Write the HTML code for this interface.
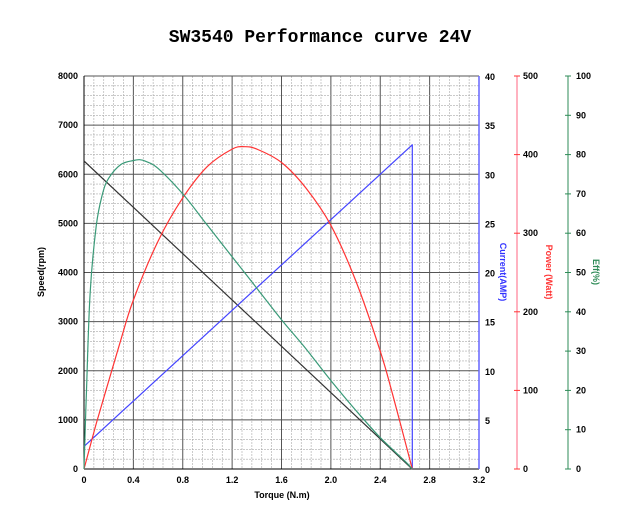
<!DOCTYPE html>
<html><head><meta charset="utf-8"><style>
body{margin:0;background:#fff;width:631px;height:515px;overflow:hidden;font-family:"Liberation Sans",sans-serif}
</style></head><body>
<svg width="631" height="515" font-family="Liberation Sans, sans-serif">
<text x="320" y="42" text-anchor="middle" font-size="18" font-weight="bold" font-family="Liberation Mono, monospace">SW3540 Performance curve  24V</text>
<g id="grid"></g><g id="axes"></g><g id="series"></g>
<text transform="translate(44,272) rotate(-90)" text-anchor="middle" font-size="9" font-weight="bold">Speed(rpm)</text>
<text x="282" y="498" text-anchor="middle" font-size="9" font-weight="bold">Torque (N.m)</text>
<text transform="translate(500,272) rotate(90)" text-anchor="middle" font-size="9" font-weight="bold" fill="#3333ff">Current(AMP)</text>
<text transform="translate(546,272) rotate(90)" text-anchor="middle" font-size="9" font-weight="bold" fill="#ff3333">Power (Watt)</text>
<text transform="translate(593,272) rotate(90)" text-anchor="middle" font-size="9" font-weight="bold" fill="#2e8b57">Eff(%)</text>
</svg>
<script>
const xTicks=[0,0.4,0.8,1.2,1.6,2.0,2.4,2.8,3.2];
const xTickLabels=["0","0.4","0.8","1.2","1.6","2.0","2.4","2.8","3.2"];
const speedTicks=[0,1000,2000,3000,4000,5000,6000,7000,8000];
const currentTicks=[0,5,10,15,20,25,30,35,40];
const powerTicks=[0,100,200,300,400,500];
const effTicks=[0,10,20,30,40,50,60,70,80,90,100];
const speedT=[0,2.66];
const speedV=[6270,0];
const currentT=[0,2.66,2.66];
const currentV=[2.3,33,0];
const powerT=[0,0.1,0.2,0.3,0.4,0.6,0.8,1.0,1.2,1.3,1.4,1.6,1.8,2.0,2.2,2.4,2.5,2.66];
const powerV=[0,58,112,165,215,290,345,385,407,410,407,390,357,310,240,150,95,0];
const effT=[0,0.02,0.05,0.1,0.15,0.2,0.3,0.4,0.45,0.5,0.6,0.8,1.0,1.2,1.4,1.6,1.8,2.0,2.2,2.4,2.6,2.66];
const effV=[0,20,45,62,70,74,77.5,78.5,78.7,78.3,76.5,70,62,54,46,38,30.5,22.5,15,8,2,0];

const L=84,R=479,T=76,B=469,NS="http://www.w3.org/2000/svg";
const X=v=>L+v/3.2*(R-L);
const Ys=v=>B-v/8000*(B-T), Yc=v=>B-v/40*(B-T), Yp=v=>B-v/500*(B-T), Ye=v=>B-v/100*(B-T);
function mk(tag,attrs,parent,text){const e=document.createElementNS(NS,tag);for(const k in attrs)e.setAttribute(k,attrs[k]);if(text!==undefined)e.textContent=text;document.getElementById(parent).appendChild(e);return e;}
for(let i=0;i<=40;i++){const x=L+i*(R-L)/40;const maj=i%5==0;
 const e=mk('line',{x1:x,x2:x,y1:T,y2:B,stroke:maj?'#555':'#aaa','stroke-width':maj?1:0.6,'stroke-dasharray':maj?'':'2,1'},'grid');
 
 }
for(let i=0;i<=40;i++){const y=T+i*(B-T)/40;const maj=i%5==0;
 const e=mk('line',{x1:L,x2:R,y1:y,y2:y,stroke:maj?'#555':'#aaa','stroke-width':maj?1:0.6,'stroke-dasharray':maj?'':'2,1'},'grid');
 
 }
let a=mk('line',{x1:L,x2:L,y1:T,y2:B,stroke:'#000'},'axes');


a=mk('line',{x1:L,x2:R,y1:B,y2:B,stroke:'#000'},'axes');


a=mk('line',{x1:R,x2:R,y1:T,y2:B,stroke:'#6666ff','stroke-width':1.5},'axes');


a=mk('line',{x1:517,x2:517,y1:T,y2:B,stroke:'#ff6680'},'axes');


a=mk('line',{x1:568,x2:568,y1:T,y2:B,stroke:'#2e8b57'},'axes');


xTicks.forEach((v,i)=>{const t=mk('text',{x:X(v),y:B+14,'text-anchor':'middle','font-size':9,'font-weight':'bold'},'axes',xTickLabels[i]);
 
 });
speedTicks.forEach(v=>{const t=mk('text',{x:L-6,y:Ys(v)+3,'text-anchor':'end','font-size':9,'font-weight':'bold'},'axes',v);
 
 });
currentTicks.forEach(v=>{const t=mk('text',{x:R+6,y:Yc(v)+4,'font-size':9,'font-weight':'bold'},'axes',v);
 
 });
powerTicks.forEach(v=>{mk('line',{x1:514,x2:520,y1:Yp(v),y2:Yp(v),stroke:'#ff3333'},'axes');const t=mk('text',{x:523,y:Yp(v)+3,'font-size':9,'font-weight':'bold'},'axes',v);
 
 });
effTicks.forEach(v=>{mk('line',{x1:565,x2:571,y1:Ye(v),y2:Ye(v),stroke:'#2e8b57'},'axes');const t=mk('text',{x:576,y:Ye(v)+3,'font-size':9,'font-weight':'bold'},'axes',v);
 
 });
function line(ts,vs,yf,color,name){const pts=ts.map((t,i)=>X(t).toFixed(1)+','+yf(vs[i]).toFixed(1)).join(' ');
 const p=mk('polyline',{points:pts,fill:'none',stroke:color,'stroke-width':1.2,'stroke-linejoin':'round'},'series');
 
 }
function smooth(ts,vs,yf,color,name){const P=ts.map((t,i)=>[X(t),yf(vs[i])]);let d='M'+P[0][0].toFixed(1)+','+P[0][1].toFixed(1);
 for(let i=0;i<P.length-1;i++){const p0=P[Math.max(0,i-1)],p1=P[i],p2=P[i+1],p3=P[Math.min(P.length-1,i+2)];
  const c1=[p1[0]+(p2[0]-p0[0])/6,p1[1]+(p2[1]-p0[1])/6],c2=[p2[0]-(p3[0]-p1[0])/6,p2[1]-(p3[1]-p1[1])/6];
  d+=' C'+c1.map(n=>n.toFixed(1))+' '+c2.map(n=>n.toFixed(1))+' '+p2.map(n=>n.toFixed(1));}
 const p=mk('path',{d:d,fill:'none',stroke:color,'stroke-width':1.2},'series');
 
 }
line(speedT,speedV,Ys,'#333','speed-line');
line(currentT,currentV,Yc,'#4444ff','current-line');
smooth(powerT,powerV,Yp,'#ff3333','power-curve');
smooth(effT,effV,Ye,'#3a9a78','efficiency-curve');
</script>
</body></html>
